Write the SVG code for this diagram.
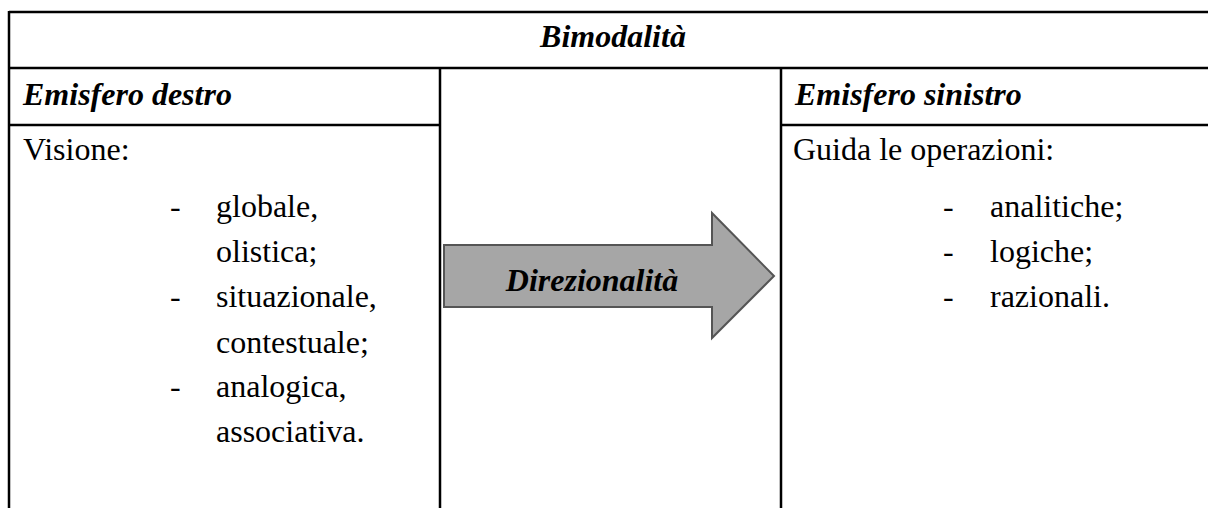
<svg xmlns="http://www.w3.org/2000/svg" width="1208" height="508" viewBox="0 0 1208 508">
<style>
.t{font-family:"Liberation Serif","Times New Roman",serif;font-size:32px;fill:#000}
.h{font-family:"Liberation Serif","Times New Roman",serif;font-size:32px;font-weight:bold;font-style:italic;fill:#000}
.grid line{stroke:#000;stroke-width:2.5}
</style>
<rect x="0" y="0" width="1208" height="508" fill="#fff"/>
<g id="table" class="grid">
<line x1="9" y1="12" x2="1208" y2="12"/>
<line x1="9" y1="68" x2="1208" y2="68"/>
<line x1="9" y1="125" x2="440" y2="125"/>
<line x1="781" y1="125" x2="1208" y2="125"/>
<line x1="9" y1="11" x2="9" y2="508"/>
<line x1="440" y1="68" x2="440" y2="508"/>
<line x1="781" y1="68" x2="781" y2="508"/>
</g>
<g id="title"><text class="h" x="613" y="47" text-anchor="middle">Bimodalità</text></g>
<g id="left">
<text class="h" x="23" y="105">Emisfero destro</text>
<text class="t" x="23" y="160">Visione:</text>
<text class="t" x="170" y="217">-</text><text class="t" x="216" y="217">globale,</text>
<text class="t" x="216" y="262">olistica;</text>
<text class="t" x="170" y="307">-</text><text class="t" x="216" y="307">situazionale,</text>
<text class="t" x="216" y="353">contestuale;</text>
<text class="t" x="170" y="397">-</text><text class="t" x="216" y="397">analogica,</text>
<text class="t" x="216" y="442">associativa.</text>
</g>
<g id="right">
<text class="h" x="795" y="105">Emisfero sinistro</text>
<text class="t" x="793" y="160">Guida le operazioni:</text>
<text class="t" x="943" y="217">-</text><text class="t" x="990" y="217">analitiche;</text>
<text class="t" x="943" y="262">-</text><text class="t" x="990" y="262">logiche;</text>
<text class="t" x="943" y="307">-</text><text class="t" x="990" y="307">razionali.</text>
</g>
<g id="connectors">
<g id="arrow">
<path d="M444,245 L712,245 L712,213 L774,276 L712,338 L712,307 L444,307 Z" fill="#a6a6a6" stroke="#555" stroke-width="2" stroke-linejoin="miter"/>
<text class="h" x="592" y="291" text-anchor="middle">Direzionalità</text>
</g>
</g>
</svg>
